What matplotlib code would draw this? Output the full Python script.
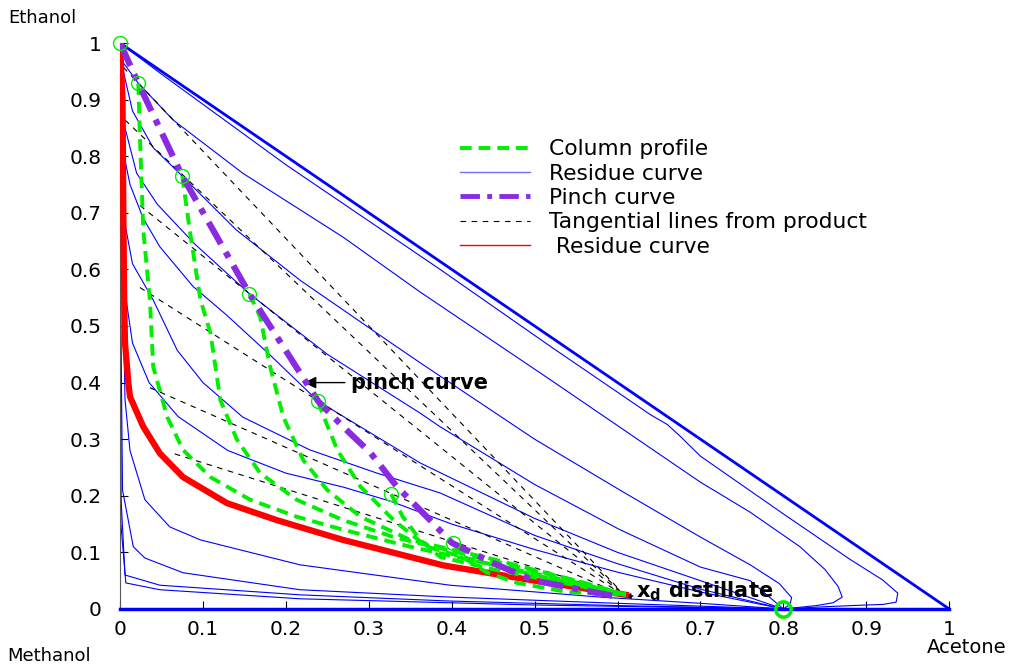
import matplotlib
matplotlib.use('Agg')
import matplotlib.pyplot as plt
from matplotlib.lines import Line2D

plt.rcParams['font.family'] = ['DejaVu Sans']
plt.rcParams['mathtext.fontset'] = 'dejavusans'

# residue curves (acetone x, ethanol y)
res_b_x = [0, 0.05, 0.2, 0.386, 0.52, 0.64, 0.66, 0.675, 0.70, 0.8, 0.88, 0.92, 0.938, 0.936, 0.92, 0.9, 0.85, 0.8]
res_b_y = [1, 0.945, 0.785, 0.6, 0.463, 0.343, 0.326, 0.306, 0.27, 0.168, 0.088, 0.051, 0.028, 0.012, 0.008, 0.007, 0.004, 0.0]
res_c_x = [0, 0.004, 0.022, 0.064, 0.148, 0.269, 0.362, 0.519, 0.7, 0.76, 0.82, 0.85, 0.866, 0.871, 0.86, 0.84, 0.8]
res_c_y = [1, 0.965, 0.929, 0.864, 0.77, 0.657, 0.56, 0.405, 0.224, 0.171, 0.11, 0.07, 0.04, 0.021, 0.011, 0.006, 0]
res_d_x = [0, 0.004, 0.015, 0.04, 0.075, 0.14, 0.217, 0.322, 0.362, 0.5, 0.603, 0.7, 0.76, 0.795, 0.81, 0.808, 0.8]
res_d_y = [1, 0.95, 0.88, 0.815, 0.765, 0.67, 0.581, 0.475, 0.435, 0.3, 0.21, 0.127, 0.078, 0.045, 0.02, 0.008, 0]
res_e_x = [0, 0.002, 0.006, 0.02, 0.045, 0.09, 0.156, 0.25, 0.362, 0.386, 0.5, 0.603, 0.7, 0.76, 0.8]
res_e_y = [1, 0.92, 0.85, 0.77, 0.715, 0.645, 0.557, 0.45, 0.346, 0.322, 0.22, 0.14, 0.074, 0.05, 0]
res_f_x = [0, 0.002, 0.005, 0.012, 0.028, 0.048, 0.088, 0.128, 0.18, 0.239, 0.362, 0.5, 0.6, 0.7, 0.8]
res_f_y = [1, 0.87, 0.8, 0.75, 0.69, 0.64, 0.57, 0.52, 0.45, 0.367, 0.258, 0.16, 0.1, 0.05, 0]
res_g_x = [0, 0.002, 0.006, 0.015, 0.04, 0.069, 0.1, 0.148, 0.229, 0.31, 0.386, 0.5, 0.6, 0.7, 0.8]
res_g_y = [1, 0.8, 0.68, 0.61, 0.546, 0.457, 0.4, 0.339, 0.281, 0.24, 0.205, 0.13, 0.08, 0.035, 0]
res_h_x = [0, 0.002, 0.006, 0.015, 0.035, 0.07, 0.13, 0.2, 0.27, 0.327, 0.4, 0.5, 0.6, 0.7, 0.8]
res_h_y = [1, 0.7, 0.56, 0.47, 0.4, 0.34, 0.28, 0.24, 0.215, 0.19, 0.15, 0.105, 0.065, 0.03, 0]
res_i_x = [0, 0.003, 0.006, 0.012, 0.03, 0.06, 0.097, 0.217, 0.398, 0.579, 0.7, 0.8]
res_i_y = [1, 0.6, 0.37, 0.28, 0.193, 0.145, 0.122, 0.078, 0.042, 0.021, 0.01, 0]
res_j_x = [0, 0.001, 0.003, 0.016, 0.03, 0.076, 0.217, 0.398, 0.6, 0.8]
res_j_y = [1, 0.5, 0.21, 0.11, 0.09, 0.064, 0.034, 0.021, 0.01, 0]
res_k_x = [0, 0.001, 0.006, 0.048, 0.217, 0.398, 0.6, 0.8]
res_k_y = [1, 0.2, 0.06, 0.042, 0.025, 0.014, 0.006, 0]
res_l_x = [0, 0.001, 0.007, 0.048, 0.217, 0.5, 0.8]
res_l_y = [1, 0.15, 0.046, 0.034, 0.018, 0.007, 0]
residue_x = [res_b_x, res_c_x, res_d_x, res_e_x, res_f_x, res_g_x, res_h_x, res_i_x, res_j_x, res_k_x, res_l_x]
residue_y = [res_b_y, res_c_y, res_d_y, res_e_y, res_f_y, res_g_y, res_h_y, res_i_y, res_j_y, res_k_y, res_l_y]

# residue curve through the distillate
red_x = [0, 0.003, 0.004, 0.005, 0.006, 0.01, 0.012, 0.028, 0.048, 0.076, 0.129, 0.189, 0.269, 0.39, 0.5, 0.61]
red_y = [1, 0.9, 0.7, 0.55, 0.47, 0.4, 0.375, 0.322, 0.275, 0.233, 0.187, 0.157, 0.122, 0.077, 0.05, 0.025]

# pinch curve
pinch_x = [0, 0.022, 0.075, 0.156, 0.239, 0.269, 0.302, 0.334, 0.374, 0.40, 0.45, 0.498, 0.555, 0.603]
pinch_y = [1, 0.929, 0.765, 0.557, 0.367, 0.322, 0.276, 0.216, 0.157, 0.117, 0.081, 0.051, 0.034, 0.021]

# pinch points (start of each column profile)
pp_x = [0, 0.022, 0.075, 0.156, 0.239, 0.327, 0.402]
pp_y = [1, 0.929, 0.765, 0.557, 0.367, 0.203, 0.117]
xd = (0.61, 0.022)
azeo = (0.8, 0.0)

# tangential lines: far end on left side, other end at xd
tan_x = [0.004, 0.006, 0.024, 0.024, 0.036, 0.066]
tan_y = [0.957, 0.864, 0.713, 0.568, 0.391, 0.274]

# column profiles
col_x = [
    [0.022, 0.024, 0.028, 0.036, 0.04, 0.057, 0.076, 0.109, 0.157, 0.213, 0.269, 0.35, 0.45, 0.55, 0.61],
    [0.075, 0.084, 0.097, 0.109, 0.121, 0.141, 0.169, 0.213, 0.269, 0.33, 0.45, 0.55, 0.61],
    [0.156, 0.169, 0.181, 0.197, 0.221, 0.25, 0.29, 0.35, 0.45, 0.55, 0.61],
    [0.239, 0.241, 0.262, 0.29, 0.33, 0.37, 0.43, 0.5, 0.61],
    [0.327, 0.341, 0.362, 0.386, 0.45, 0.52, 0.61],
    [0.402, 0.418, 0.443, 0.479, 0.539, 0.61],
]
col_y = [
    [0.929, 0.834, 0.67, 0.546, 0.428, 0.339, 0.281, 0.233, 0.193, 0.163, 0.14, 0.11, 0.078, 0.047, 0.025],
    [0.765, 0.67, 0.546, 0.488, 0.369, 0.299, 0.24, 0.193, 0.157, 0.127, 0.085, 0.05, 0.025],
    [0.557, 0.516, 0.428, 0.339, 0.263, 0.21, 0.163, 0.122, 0.088, 0.05, 0.025],
    [0.367, 0.357, 0.281, 0.216, 0.157, 0.11, 0.085, 0.06, 0.025],
    [0.203, 0.163, 0.122, 0.092, 0.07, 0.05, 0.025],
    [0.117, 0.087, 0.064, 0.046, 0.03, 0.025],
]

ticks = [0, 0.1, 0.2, 0.3, 0.4, 0.5, 0.6, 0.7, 0.8, 0.9, 1]
tick_lbl = ['0', '0.1', '0.2', '0.3', '0.4', '0.5', '0.6', '0.7', '0.8', '0.9', '1']

GREEN = '#00ee00'
PURPLE = '#8a2be2'

fig = plt.figure(figsize=(10.13, 6.67), dpi=100)
ax = fig.add_axes([0.1185, 0.087, 0.8185, 0.8485])

# triangle edges
ax.plot([0, 1], [1, 0], color='blue', lw=2, zorder=3)
ax.plot([0, 1], [0, 0], color='blue', lw=2.5, zorder=3, clip_on=False)

for xs, ys in zip(residue_x, residue_y):
    ax.plot(xs, ys, color='blue', lw=0.8, zorder=2)

for tx, ty in zip(tan_x, tan_y):
    ax.plot([tx, xd[0]], [ty, xd[1]], color='black', lw=0.8, dashes=(5, 5), zorder=2)

ax.plot(red_x, red_y, color='red', lw=4.5, zorder=4)

for xs, ys in zip(col_x, col_y):
    ax.plot(xs, ys, color=GREEN, lw=2.8, dashes=(3, 1.8), zorder=5)

ax.plot(pinch_x, pinch_y, color=PURPLE, lw=4.5, dashes=(4, 1.5, 1, 1.5), zorder=6)

ax.plot(pp_x, pp_y, 'o', ms=10, mfc='none', mec=GREEN, mew=1, zorder=7, clip_on=False)
ax.plot([azeo[0]], [azeo[1]], 'o', ms=11, mfc='none', mec=GREEN, mew=2.5, zorder=7, clip_on=False)

# annotations
ax.annotate('pinch curve', xy=(0.222, 0.40), xytext=(0.278, 0.40),
            fontsize=15, fontweight='bold', va='center', ha='left',
            arrowprops=dict(arrowstyle='-|>', color='black', lw=1, mutation_scale=18, shrinkA=2, shrinkB=0))
ax.annotate(r'$\mathbf{x}_{\mathbf{d}}$ distillate', xy=(0.609, 0.022), xytext=(0.622, 0.032),
            fontsize=15, fontweight='bold', va='center', ha='left',
            arrowprops=dict(arrowstyle='-|>', color='black', lw=1, mutation_scale=8, shrinkA=0, shrinkB=0))

ax.set_xlim(0, 1)
ax.set_ylim(0, 1)
ax.set_xticks(ticks)
ax.set_xticklabels(tick_lbl)
ax.set_yticks(ticks)
ax.set_yticklabels(tick_lbl)
ax.tick_params(direction='in', length=6, labelsize=14.5, colors='black')
ax.tick_params(axis='x', pad=8)
ax.tick_params(axis='y', pad=13)
for s in ['top', 'right']:
    ax.spines[s].set_visible(False)
ax.spines['left'].set_color('0.35')
ax.spines['bottom'].set_color('blue')

fig.text(0.042, 0.973, 'Ethanol', fontsize=13, ha='center', va='center')
fig.text(0.954, 0.029, 'Acetone', fontsize=14, ha='center', va='center')
fig.text(0.048, 0.017, 'Methanol', fontsize=13, ha='center', va='center')

handles = [
    Line2D([], [], color=GREEN, lw=2.8, dashes=(3, 1.8)),
    Line2D([], [], color='#6f6fff', lw=1),
    Line2D([], [], color=PURPLE, lw=3.5, dashes=(4, 1.5, 1, 1.5)),
    Line2D([], [], color='black', lw=0.8, dashes=(5, 5)),
    Line2D([], [], color='red', lw=1),
]
labels = ['Column profile', 'Residue curve', 'Pinch curve', 'Tangential lines from product', ' Residue curve']
ax.legend(handles, labels, loc='upper left', bbox_to_anchor=(0.41, 0.83), frameon=False,
          fontsize=15.7, handlelength=3.2, labelspacing=0.2, handletextpad=0.9, borderaxespad=0,
          borderpad=0)

fig.savefig('out.png', dpi=100)
